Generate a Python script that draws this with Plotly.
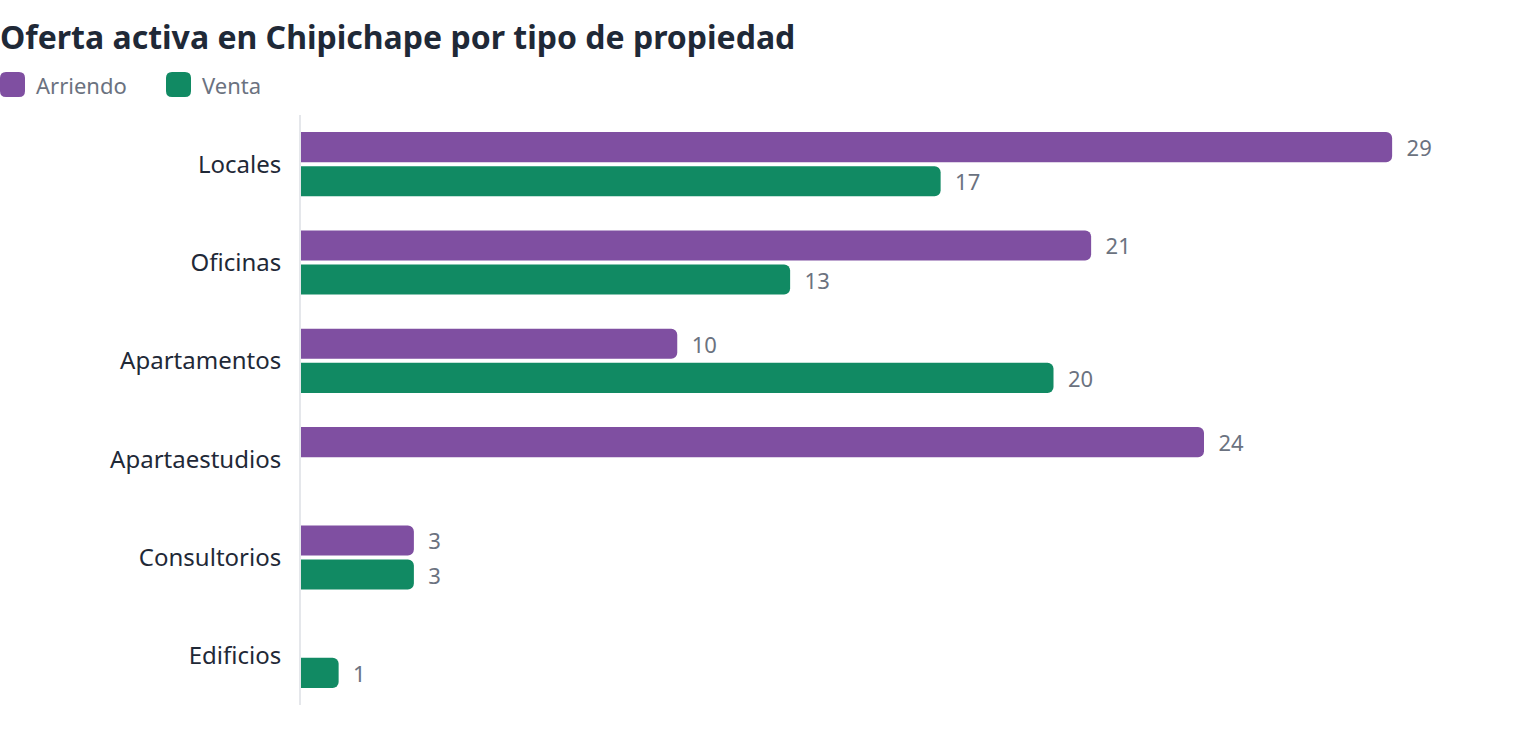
import plotly.graph_objects as go

categories = ["Locales", "Oficinas", "Apartamentos", "Apartaestudios", "Consultorios", "Edificios"]
arriendo = [29, 21, 10, 24, 3, None]
venta = [17, 13, 20, None, 3, 1]
series_names = ["Arriendo", "Venta"]

PURPLE = "#7f4fa1"
GREEN = "#118a63"
FONT = "Segoe UI, Noto Sans, Open Sans, sans-serif"

W, H = 1520, 740
ML, MR, MT, MB = 301, 15, 115, 35
PW, PH = W - ML - MR, H - MT - MB

def px_x(px):
    return (px - ML) / PW

def px_y(py):
    return (H - MB - py) / PH

fig = go.Figure()
for name, vals, col in [(series_names[0], arriendo, PURPLE), (series_names[1], venta, GREEN)]:
    fig.add_trace(go.Bar(
        y=categories, x=vals, orientation="h", name=name,
        marker=dict(color=col, line=dict(width=0)),
        texttemplate="  %{x}", textposition="outside", cliponaxis=False,
        textfont=dict(color="#6b7280", size=22, family=FONT), showlegend=False,
    ))

# custom legend (rounded squares + labels)
shapes = []
annotations = []
legend_items = [(series_names[0], PURPLE, 0, 34), (series_names[1], GREEN, 166, 200)]
r = 6
s = 25
path = (f"M {r},0 L {s-r},0 Q {s},0 {s},{r} L {s},{s-r} Q {s},{s} {s-r},{s} "
        f"L {r},{s} Q 0,{s} 0,{s-r} L 0,{r} Q 0,0 {r},0 Z")
for name, col, mx, tx in legend_items:
    shapes.append(dict(
        type="path", xref="paper", yref="paper",
        xsizemode="pixel", ysizemode="pixel",
        xanchor=px_x(mx), yanchor=px_y(97),
        path=path, fillcolor=col, line=dict(width=0),
    ))
    annotations.append(dict(
        text=name, xref="paper", yref="paper", x=px_x(tx), y=px_y(85),
        xanchor="left", yanchor="middle", showarrow=False,
        font=dict(size=22, color="#6b7280", family=FONT),
    ))

fig.update_layout(
    width=W, height=H,
    paper_bgcolor="white", plot_bgcolor="white",
    barmode="group", bargap=0.306, bargroupgap=0.1176, barcornerradius=6,
    margin=dict(l=ML, r=MR, t=MT, b=MB),
    font=dict(family=FONT, color="#1f2937"),
    showlegend=False,
    shapes=shapes, annotations=annotations,
    title=dict(text="<b>Oferta activa en Chipichape por tipo de propiedad</b>",
               x=0, xref="container", xanchor="left", y=0.949, yanchor="middle",
               font=dict(size=32, color="#1f2937", family=FONT)),
    xaxis=dict(range=[0, 32], visible=False, showgrid=False, zeroline=False),
    yaxis=dict(categoryorder="array", categoryarray=categories, autorange="reversed",
               showline=True, linecolor="#e5e7eb", linewidth=2, showgrid=False,
               ticks="", ticklabelstandoff=13,
               tickfont=dict(size=24, color="#1f2937", family=FONT)),
)

fig.write_html("out.html")
